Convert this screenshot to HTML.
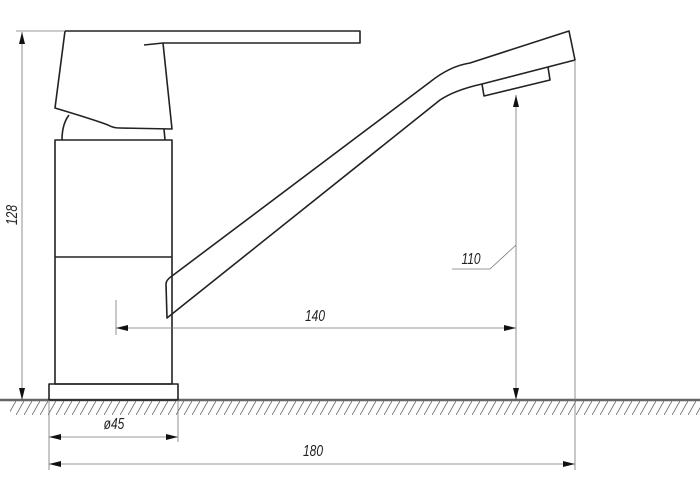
<!DOCTYPE html>
<html><head><meta charset="utf-8"><style>html,body{margin:0;padding:0;background:#fff}svg{display:block}</style></head>
<body>
<svg width="700" height="500" viewBox="0 0 700 500" xmlns="http://www.w3.org/2000/svg">
<defs>
<marker id="a" viewBox="0 0 12 6" refX="12" refY="3" markerWidth="12" markerHeight="6" orient="auto-start-reverse" markerUnits="userSpaceOnUse"><path d="M0,0 L12,3 L0,6 Z" fill="#111"/></marker>
<pattern id="h" width="8" height="16" patternUnits="userSpaceOnUse"><line x1="0" y1="15" x2="8" y2="1" stroke="#666" stroke-width="0.8"/></pattern>
</defs>
<rect x="10" y="401" width="690" height="14" fill="url(#h)"/>
<line x1="0" y1="400" x2="700" y2="400" stroke="#666" stroke-width="2.5"/>
<g fill="none" stroke="#222" stroke-width="1.6" stroke-linejoin="round">
<path d="M65,31 L360,31 L360,43 L163,43"/>
<path d="M144,45 L163,43"/>
<path d="M65,31 L55,108 Q95,120 108,125 Q113,128 120,128 L172,129 L163,43"/>
<path d="M62,140 Q62,124 69,115"/>
<path d="M165,140 L164,129"/>
<rect x="55" y="140" width="117" height="244"/>
<line x1="55" y1="257" x2="172" y2="257"/>
<rect x="49" y="384" width="129" height="16"/>
<path d="M172,276 L430,82 Q450,66 470,63 L569,31 L575,60 L482,84 Q455,90 440,100 L167,318 L166,284 Q166,280 172,276 Z"/>
<path d="M482,84 L484,96 L550,80 L548,67"/>
</g>
<g stroke="#777" stroke-width="0.8" fill="none">
<line x1="16" y1="31" x2="65" y2="31"/>
<line x1="575" y1="60" x2="575" y2="470"/>
<line x1="116" y1="300" x2="116" y2="335"/>
<line x1="49" y1="400" x2="49" y2="470"/>
<line x1="178" y1="400" x2="178" y2="442"/>
<path d="M516,245 L490,269 L452,269"/>
</g>
<g stroke="#777" stroke-width="0.8" fill="none" marker-start="url(#a)" marker-end="url(#a)">
<line x1="22" y1="32" x2="22" y2="400"/>
<line x1="516" y1="95" x2="516" y2="400"/>
<line x1="116" y1="328" x2="516" y2="328"/>
<line x1="49" y1="437" x2="178" y2="437"/>
<line x1="49" y1="464" x2="575" y2="464"/>
</g>
<g font-family="Liberation Sans, sans-serif" font-size="16" font-style="italic" fill="#222" text-anchor="middle">
<text transform="translate(315,321) scale(0.75,1)">140</text>
<text transform="translate(471,264) scale(0.75,1)">110</text>
<text transform="translate(114,429) scale(0.75,1)">ø45</text>
<text transform="translate(313,456) scale(0.75,1)">180</text>
<text transform="translate(17,215) rotate(-90) scale(0.75,1)">128</text>
</g>
</svg>
</body></html>
